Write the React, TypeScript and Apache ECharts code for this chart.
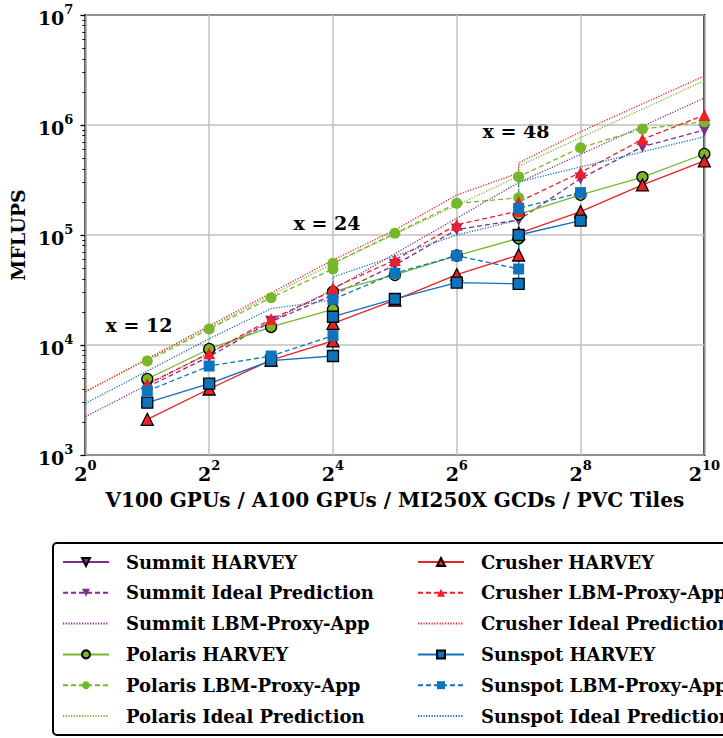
import React, { useEffect, useRef } from "react";
import * as echarts from "echarts";

const FONT = "DejaVu Serif";

const PURPLE = "#7e2f8e";
const GREEN = "#77b82a";
const RED = "#ee2027";
const BLUE = "#0f72bd";

// GPU counts (x) and MFLUPS (y)
const summitHarveyX: number[] = [];
const summitHarveyY: number[] = [];
const summitDashX = [2, 4, 8, 16, 32, 64, 128, 256, 512, 1024];
const summitDashY = [4150, 7840, 16300, 28500, 53400, 112000, 137000, 326000, 635000, 901000];
const summitDotX = [1, 16, 128, 1024];
const summitDotY = [2230, 32000, 300000, 1760000];

const polarisHarveyX = [2, 4, 8, 16, 16, 32, 64, 128, 128, 256, 512, 1024];
const polarisHarveyY = [4910, 9200, 14600, 21100, 30500, 43300, 65000, 93300, 154000, 232000, 336000, 545000];
const polarisLbmX = [2, 4, 8, 16, 16, 32, 64, 128, 128, 256, 512, 1024];
const polarisLbmY = [7160, 13970, 26900, 49100, 55300, 103500, 194000, 218000, 339000, 622000, 920000, 1070000];
const polarisIdealX = [1, 16, 128, 128, 1024];
const polarisIdealY = [3760, 55300, 343000, 423000, 2530000];

const crusherHarveyX = [2, 4, 8, 16, 16, 32, 64, 128, 128, 256, 512, 1024];
const crusherHarveyY = [2110, 3980, 7300, 10900, 15700, 25600, 43600, 65800, 103500, 163000, 285000, 471000];
const crusherLbmX = [2, 4, 8, 16, 16, 32, 64, 128, 128, 256, 512, 1024];
const crusherLbmY = [4420, 8410, 17200, 31000, 33000, 59300, 124000, 165000, 200000, 370000, 741000, 1230000];
const crusherIdealX = [1, 16, 32, 64, 128, 128, 256, 1024];
const crusherIdealY = [3763, 59250, 111000, 231000, 366000, 451000, 869000, 2790000];

const sunspotHarveyX = [2, 4, 8, 16, 16, 32, 64, 128, 128, 256];
const sunspotHarveyY = [2990, 4450, 7200, 7940, 18070, 26200, 36900, 36000, 100000, 135000];
const sunspotLbmX = [2, 4, 8, 16, 16, 32, 64, 128, 128, 256];
const sunspotLbmY = [3820, 6440, 7940, 12170, 26000, 44900, 64900, 49100, 175000, 243000];
const sunspotIdealX = [1, 4, 8, 16, 16, 64, 128, 128, 1024];
const sunspotIdealY = [2950, 11400, 21400, 25700, 41500, 100000, 137000, 303000, 783000];

const yMinorTicks: number[] = [];
for (let d = 3; d < 7; d++) {
  for (let m = 2; m <= 9; m++) yMinorTicks.push(m * Math.pow(10, d));
}

const DOWN_TRI = "path://M0,0L10,0L5,8.66Z";

type Kind = "harvey" | "dash" | "dot";

function mk(name: string, xs: number[], ys: number[], color: string, kind: Kind, symbol: string, size: number) {
  const lineType = kind === "harvey" ? "solid" : kind === "dash" ? [5, 3] : [1.2, 1.5];
  const s: any = {
    type: "line",
    name,
    data: xs.map((x, i) => [x, ys[i]]),
    lineStyle: { color, width: 1.3, type: lineType },
    itemStyle: {
      color,
      borderColor: kind === "harvey" ? "#000" : color,
      borderWidth: kind === "harvey" ? 1.3 : 0,
    },
    symbol: kind === "dot" ? "none" : symbol,
    symbolSize: size,
    showSymbol: kind !== "dot",
    emphasis: { disabled: true },
  };
  return s;
}

const names1 = [
  "Summit HARVEY",
  "Summit Ideal Prediction",
  "Summit LBM-Proxy-App",
  "Polaris HARVEY",
  "Polaris LBM-Proxy-App",
  "Polaris Ideal Prediction",
];
const names2 = [
  "Crusher HARVEY",
  "Crusher LBM-Proxy-App",
  "Crusher Ideal Prediction",
  "Sunspot HARVEY",
  "Sunspot LBM-Proxy-App",
  "Sunspot Ideal Prediction",
];
const dottedNames = [names1[2], names1[5], names2[2], names2[5]];

const series = [
  mk(names1[0], summitHarveyX, summitHarveyY, PURPLE, "harvey", DOWN_TRI, 12),
  mk(names1[1], summitDashX, summitDashY, PURPLE, "dash", DOWN_TRI, 12),
  mk(names1[2], summitDotX, summitDotY, PURPLE, "dot", "none", 0),
  mk(names1[3], polarisHarveyX, polarisHarveyY, GREEN, "harvey", "circle", 11),
  mk(names1[4], polarisLbmX, polarisLbmY, GREEN, "dash", "circle", 11),
  mk(names1[5], polarisIdealX, polarisIdealY, GREEN, "dot", "none", 0),
  mk(names2[0], crusherHarveyX, crusherHarveyY, RED, "harvey", "triangle", 12),
  mk(names2[1], crusherLbmX, crusherLbmY, RED, "dash", "triangle", 12),
  mk(names2[2], crusherIdealX, crusherIdealY, RED, "dot", "none", 0),
  mk(names2[3], sunspotHarveyX, sunspotHarveyY, BLUE, "harvey", "rect", 11),
  mk(names2[4], sunspotLbmX, sunspotLbmY, BLUE, "dash", "rect", 11),
  mk(names2[5], sunspotIdealX, sunspotIdealY, BLUE, "dot", "none", 0),
];

const richSup = {
  a: { fontFamily: FONT, fontWeight: "bold", fontSize: 19, color: "#000", lineHeight: 24, verticalAlign: "bottom" },
  b: { fontFamily: FONT, fontWeight: "bold", fontSize: 13, color: "#000", lineHeight: 13, verticalAlign: "top" },
};

function legend(names: string[], left: number) {
  return {
    data: names.map((n) =>
      dottedNames.includes(n)
        ? { name: n, itemStyle: { opacity: 0, color: "rgba(0,0,0,0)", borderWidth: 0 } }
        : { name: n }
    ),
    orient: "vertical",
    left,
    top: 547,
    itemWidth: 46,
    itemHeight: 10,
    itemGap: 10.8,
    selectedMode: false,
    textStyle: {
      fontFamily: FONT,
      fontWeight: "bold",
      fontSize: 18,
      lineHeight: 20,
      color: "#000",
      padding: [0, 0, 0, 12],
    },
  };
}

const annStyle = { fontFamily: FONT, fontWeight: "bold", fontSize: 19, fill: "#000" };

const option: any = {
  animation: false,
  grid: { left: 81.7, right: 13, top: 15, bottom: 283, show: true, borderColor: "#000", borderWidth: 2 },
  xAxis: {
    type: "log",
    logBase: 2,
    min: 1,
    max: 1024,
    interval: 2,
    axisLine: { show: false },
    axisTick: { show: false },
    splitLine: { show: true, lineStyle: { color: "#c0c0c0", width: 1.5 } },
    axisLabel: {
      margin: 4,
      formatter: (v: number) => `{a|2}{b|${Math.round(Math.log2(v))}}`,
      rich: richSup,
    },
    name: "V100 GPUs / A100 GPUs / MI250X GCDs / PVC Tiles",
    nameLocation: "middle",
    nameGap: 35,
    nameTextStyle: { fontFamily: FONT, fontWeight: "bold", fontSize: 20, color: "#000" },
  },
  yAxis: [
    {
      type: "log",
      logBase: 10,
      min: 1000,
      max: 10000000,
      interval: 1,
      axisLine: { show: false },
      axisTick: { show: true, length: 5, lineStyle: { color: "#000", width: 1.3 } },
      splitLine: { show: true, lineStyle: { color: "#c0c0c0", width: 1.5 } },
      axisLabel: {
        margin: 12,
        formatter: (v: number) => `{a|10}{b|${Math.round(Math.log10(v))}}`,
        rich: richSup,
      },
      name: "MFLUPS",
      nameLocation: "middle",
      nameGap: 52,
      nameRotate: 90,
      nameTextStyle: { fontFamily: FONT, fontWeight: "bold", fontSize: 19, color: "#000" },
    },
    {
      type: "log",
      logBase: 10,
      min: 1000,
      max: 10000000,
      position: "left",
      axisLine: { show: false },
      axisLabel: { show: false },
      splitLine: { show: false },
      axisTick: { show: true, length: 3, customValues: yMinorTicks, lineStyle: { color: "#000", width: 1 } },
    },
  ],
  legend: [legend(names1, 57), legend(names2, 412)],
  graphic: [
    {
      type: "rect",
      shape: { x: 53, y: 543, width: 720, height: 192, r: 4 },
      style: { fill: "none", stroke: "#000", lineWidth: 2 },
      z: 10,
    },
    { type: "text", x: 139, y: 325, style: { ...annStyle, text: "x = 12", align: "center", verticalAlign: "middle" } },
    { type: "text", x: 327, y: 223, style: { ...annStyle, text: "x = 24", align: "center", verticalAlign: "middle" } },
    { type: "text", x: 516, y: 131, style: { ...annStyle, text: "x = 48", align: "center", verticalAlign: "middle" } },
  ],
  series,
};

export default function App() {
  const ref = useRef<HTMLDivElement>(null);
  useEffect(() => {
    const chart = echarts.init(ref.current!, null, { renderer: "svg" });
    chart.setOption(option);
    return () => chart.dispose();
  }, []);
  return (
    <div
      ref={ref}
      style={{ position: "fixed", left: 0, top: 0, width: 723, height: 738, background: "#fff" }}
    />
  );
}
